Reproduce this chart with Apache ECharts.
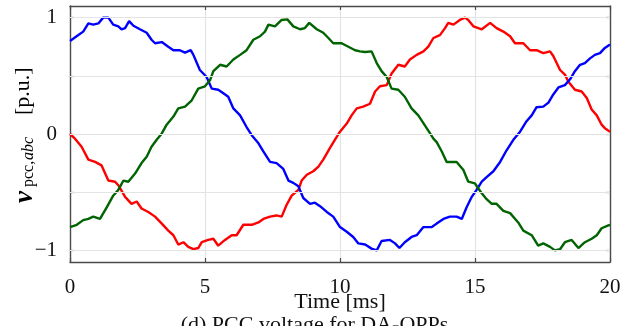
<!DOCTYPE html>
<html>
<head>
<meta charset="utf-8">
<script src="https://cdn.jsdelivr.net/npm/echarts@6/dist/echarts.min.js"></script>
<style>
html,body{margin:0;padding:0;background:#fff;}
#chart{width:629px;height:326px;}
</style>
</head>
<body>
<div id="chart"></div>
<script>
// ---- data ----
const xTicks = [0, 5, 10, 15, 20];
const yTicks = [-1, -0.5, 0, 0.5, 1];
const yLabels = [-1, 0, 1];

const blueT = [0,0.31,0.49,0.68,0.86,1.05,1.23,1.42,1.6,1.79,1.91,2.04,2.19,2.35,2.59,2.84,3.02,3.15,3.4,3.64,3.83,4.07,4.26,4.47,4.57,4.81,5.06,5.25,5.49,5.68,5.86,6.05,6.3,6.54,6.73,6.98,7.16,7.41,7.65,7.9,8.09,8.27,8.46,8.64,8.89,9.07,9.26,9.51,9.75,10.0,10.25,10.49,10.68,10.93,11.17,11.36,11.54,11.85,12.04,12.2,12.4,12.65,12.84,13.09,13.4,13.58,13.83,14.07,14.32,14.51,14.69,14.88,15.06,15.25,15.43,15.68,15.93,16.17,16.42,16.67,16.91,17.1,17.28,17.53,17.72,17.9,18.09,18.33,18.52,18.7,18.89,19.07,19.26,19.44,19.63,19.81,20];
const blueV = [0.80,0.85,0.88,0.95,0.94,0.95,1.0,1.0,0.94,0.925,0.90,0.91,0.97,0.93,0.90,0.87,0.81,0.78,0.79,0.75,0.72,0.72,0.70,0.72,0.68,0.55,0.49,0.39,0.38,0.35,0.32,0.22,0.16,0.06,-0.01,-0.08,-0.15,-0.24,-0.25,-0.30,-0.40,-0.42,-0.45,-0.55,-0.60,-0.59,-0.62,-0.67,-0.71,-0.80,-0.84,-0.885,-0.94,-0.95,-0.985,-1.0,-0.92,-0.91,-0.94,-0.98,-0.93,-0.885,-0.87,-0.80,-0.80,-0.77,-0.73,-0.71,-0.71,-0.73,-0.63,-0.54,-0.48,-0.41,-0.37,-0.32,-0.24,-0.14,-0.05,0.02,0.11,0.16,0.23,0.235,0.27,0.34,0.40,0.42,0.47,0.54,0.595,0.61,0.65,0.68,0.695,0.74,0.77];

const redT = [0,0.185,0.43,0.68,0.93,1.17,1.42,1.67,1.79,2.04,2.28,2.47,2.65,2.9,3.15,3.4,3.64,3.83,4.01,4.2,4.38,4.57,4.75,4.88,5.12,5.31,5.49,5.74,5.99,6.17,6.42,6.73,6.98,7.16,7.41,7.65,7.84,8.02,8.21,8.46,8.58,8.77,9.01,9.2,9.38,9.63,9.81,10.0,10.25,10.43,10.62,10.86,11.11,11.3,11.48,11.73,11.91,12.16,12.4,12.59,12.84,13.09,13.27,13.46,13.7,13.89,14.01,14.2,14.44,14.63,14.75,14.94,15.25,15.56,15.8,16.05,16.3,16.48,16.79,17.04,17.28,17.53,17.78,17.9,18.15,18.33,18.46,18.7,18.95,19.14,19.32,19.51,19.69,19.81,20];
const redV = [0,-0.04,-0.11,-0.22,-0.24,-0.27,-0.40,-0.41,-0.44,-0.54,-0.60,-0.58,-0.64,-0.67,-0.71,-0.77,-0.83,-0.87,-0.95,-0.93,-0.97,-0.99,-0.98,-0.93,-0.91,-0.90,-0.96,-0.91,-0.87,-0.87,-0.78,-0.78,-0.76,-0.73,-0.71,-0.70,-0.71,-0.61,-0.53,-0.48,-0.40,-0.35,-0.32,-0.28,-0.22,-0.12,-0.05,0.02,0.09,0.16,0.22,0.235,0.26,0.365,0.41,0.42,0.52,0.595,0.58,0.64,0.68,0.71,0.75,0.825,0.85,0.91,0.955,0.94,0.98,1.0,0.98,0.925,0.90,0.955,0.91,0.88,0.84,0.78,0.78,0.72,0.72,0.695,0.71,0.67,0.55,0.51,0.45,0.38,0.365,0.31,0.21,0.16,0.08,0.05,0.02];

const greenT = [0,0.25,0.49,0.68,0.86,1.11,1.36,1.6,1.79,1.98,2.16,2.41,2.65,2.84,3.02,3.21,3.4,3.58,3.83,4.01,4.26,4.51,4.75,5.0,5.19,5.31,5.56,5.8,6.05,6.3,6.54,6.79,7.04,7.22,7.35,7.59,7.84,8.05,8.27,8.52,8.7,8.86,9.14,9.38,9.57,9.75,10.06,10.31,10.56,10.74,10.93,11.17,11.36,11.54,11.73,11.91,12.16,12.4,12.65,12.9,13.21,13.46,13.58,13.77,13.95,14.32,14.57,14.75,15.0,15.25,15.43,15.62,15.8,16.05,16.3,16.6,16.79,17.1,17.34,17.53,17.78,17.96,18.15,18.33,18.58,18.83,19.07,19.32,19.51,19.69,19.94,20];
const greenV = [-0.80,-0.78,-0.74,-0.73,-0.71,-0.73,-0.63,-0.53,-0.48,-0.40,-0.41,-0.34,-0.25,-0.195,-0.11,-0.05,0.005,0.08,0.15,0.22,0.235,0.29,0.39,0.41,0.465,0.54,0.595,0.58,0.64,0.68,0.72,0.81,0.84,0.88,0.94,0.925,0.98,0.985,0.925,0.90,0.91,0.955,0.90,0.87,0.825,0.78,0.78,0.75,0.72,0.71,0.705,0.71,0.61,0.54,0.49,0.39,0.38,0.32,0.22,0.16,0.05,-0.04,-0.07,-0.15,-0.24,-0.24,-0.31,-0.41,-0.425,-0.51,-0.56,-0.60,-0.60,-0.66,-0.68,-0.76,-0.83,-0.87,-0.96,-0.94,-0.97,-1.0,-0.99,-0.93,-0.91,-0.98,-0.93,-0.90,-0.87,-0.81,-0.785,-0.78];

// ---- chart ----
const FONT = 'Liberation Serif';
const AXIS_COLOR = '#4a4a4a';
const GRID_COLOR = '#e3e3e3';
const zip = (t, v) => t.map((x, i) => [x, v[i]]);
const fmtMinus = v => String(v).replace('-', '\u2212');

const chart = echarts.init(document.getElementById('chart'), null, {renderer: 'canvas'});

const commonX = {
  type: 'value', min: 0, max: 20, interval: 5,
  axisLine: {show: true, onZero: false, lineStyle: {color: AXIS_COLOR, width: 1.4}},
  axisTick: {show: true, inside: true, length: 4, lineStyle: {color: AXIS_COLOR, width: 1.2}},
};
const commonY = {
  type: 'value', min: -1.1, max: 1.1,
  axisLine: {show: true, onZero: false, lineStyle: {color: AXIS_COLOR, width: 1.4}},
  axisTick: {show: true, inside: true, length: 4, customValues: yTicks, lineStyle: {color: AXIS_COLOR, width: 1.2}},
  splitLine: {show: false},
};

const lineSeries = (name, color, t, v) => ({
  name, type: 'line', data: zip(t, v), showSymbol: false, symbol: 'none',
  lineStyle: {color, width: 2.4}, itemStyle: {color}, z: 3, animation: false,
});

chart.setOption({
  animation: false,
  grid: {left: 70, right: 19, top: 6, bottom: 64, containLabel: false},
  xAxis: [
    Object.assign({}, commonX, {
      position: 'bottom',
      axisLabel: {show: true, margin: 15, fontFamily: FONT, fontSize: 21, color: '#111', customValues: xTicks},
      splitLine: {show: true, lineStyle: {color: GRID_COLOR, width: 1.2}},
      name: 'Time [ms]', nameLocation: 'middle', nameGap: 29, nameMoveOverlap: false,
      nameTextStyle: {fontFamily: FONT, fontSize: 22, color: '#111'},
    }),
    Object.assign({}, commonX, {
      position: 'top',
      axisLabel: {show: false},
      splitLine: {show: false},
    }),
  ],
  yAxis: [
    Object.assign({}, commonY, {
      position: 'left',
      axisLabel: {show: true, margin: 13, fontFamily: FONT, fontSize: 21, color: '#111',
        customValues: yLabels, formatter: fmtMinus},
    }),
    Object.assign({}, commonY, {
      position: 'right',
      axisLabel: {show: false},
    }),
  ],
  series: [
    {
      name: 'grid', type: 'line', data: [], z: 1, silent: true,
      markLine: {
        silent: true, symbol: 'none', animation: false,
        label: {show: false},
        lineStyle: {color: GRID_COLOR, width: 1.2, type: 'solid'},
        emphasis: {disabled: true},
        data: yTicks.map(v => ({yAxis: v})),
      },
    },
    lineSeries('a', '#ff0000', redT, redV),
    lineSeries('b', '#0000ff', blueT, blueV),
    lineSeries('c', '#006400', greenT, greenV),
  ],
  graphic: [
    {
      type: 'group', x: 23, y: 203, rotation: Math.PI / 2,
      children: [
        {type: 'text', x: 0, y: 2, style: {text: 'v', font: 'bold italic 27px "Liberation Serif"', fill: '#000', align: 'left', verticalAlign: 'middle'}},
        {type: 'text', x: 16, y: 6, style: {text: 'pcc,', font: '16px "Liberation Serif"', fill: '#000', align: 'left', verticalAlign: 'middle'}},
        {type: 'text', x: 43, y: 6, style: {text: 'abc', font: 'italic 16px "Liberation Serif"', fill: '#000', align: 'left', verticalAlign: 'middle'}},
        {type: 'text', x: 88, y: 0, style: {text: '[p.u.]', font: '22px "Liberation Serif"', fill: '#000', align: 'left', verticalAlign: 'middle'}},
      ],
    },
    {
      type: 'text', left: 'center', top: 314,
      style: {text: '(d) PCC voltage for DA-OPPs', font: '22px "Liberation Serif"', fill: '#111'},
    },
  ],
});
</script>
</body>
</html>
